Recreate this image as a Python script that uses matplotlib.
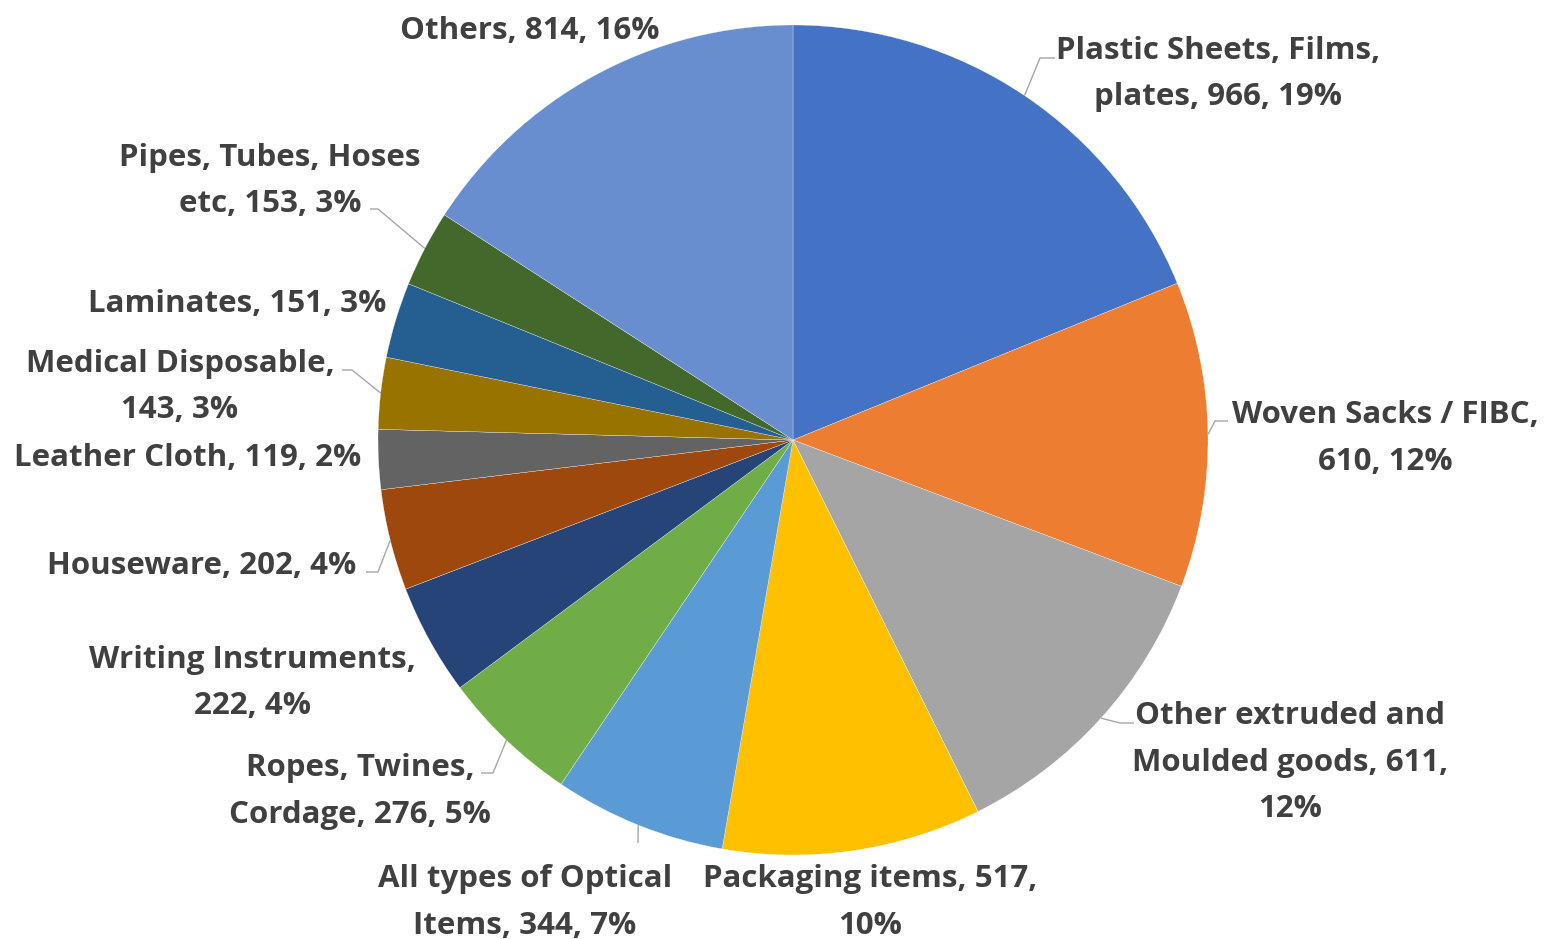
import textwrap
import numpy as np
import matplotlib
matplotlib.use("Agg")
import matplotlib.pyplot as plt

# Product categories, clockwise from 12 o'clock
categories = [
    "Plastic Sheets, Films, plates",
    "Woven Sacks / FIBC",
    "Other extruded and Moulded goods",
    "Packaging items",
    "All types of Optical Items",
    "Ropes, Twines, Cordage",
    "Writing Instruments",
    "Houseware",
    "Leather Cloth",
    "Medical Disposable",
    "Laminates",
    "Pipes, Tubes, Hoses etc",
    "Others",
]
values = [966, 610, 611, 517, 344, 276, 222, 202, 119, 143, 151, 153, 814]
colors = [
    "#4472C4", "#ED7D31", "#A5A5A5", "#FFC000", "#5B9BD5", "#70AD47",
    "#264478", "#9E480E", "#636363", "#997300", "#255E91", "#43682B",
    "#698ED0",
]

# Layout (pixel units, y downward)
W, H = 1545, 939
CX, CY, R = 793, 440, 415
TEXT_COLOR = "#404040"
LINE_GAP = 46.5
TEXT_DY = 3
FONT = dict(family=["Open Sans", "DejaVu Sans"], fontweight="bold", fontsize=22.5)

# centre of the first text line and wrap width for each label
label_pos = [
    (1218, 48), (1385, 412), (1290, 713), (870, 876), (525, 876),
    (360, 765), (252, 657), (202, 563), (188, 455), (180, 361),
    (237, 301), (270, 155), (530, 28),
]
wrap_width = [22, 19, 19, 21, 20, 16, 20, 30, 30, 19, 30, 19, 30]

# leader lines: elbow and end point for the labels that have one
leaders = {
    0: [(1040, 58), (1055, 58)],
    1: [(1215, 421), (1228, 421)],
    2: [(1120, 723), (1134, 723)],
    4: [(638, 843)],
    5: [(493, 773), (481, 773)],
    7: [(378, 572), (366, 572)],
    9: [(352, 370), (342, 370)],
    11: [(378, 209), (370, 209)],
}

fig = plt.figure(figsize=(W / 100, H / 100), dpi=100)
ax = fig.add_axes([0, 0, 1, 1])

# y axis is inverted below, so counter-clockwise in data is clockwise on screen
ax.pie(values, colors=colors, startangle=-90, counterclock=True,
       center=(CX, CY), radius=R,
       wedgeprops=dict(edgecolor="white", linewidth=0.2))
ax.set_xlim(0, W)
ax.set_ylim(H, 0)
ax.set_aspect("equal")
ax.axis("off")

total = sum(values)
cum = np.cumsum([0] + values)
for i, (name, v) in enumerate(zip(categories, values)):
    pct = round(v / total * 100)
    text = f"{name}, {v}, {pct}%"
    lines = textwrap.wrap(text, width=wrap_width[i])
    x0, y0 = label_pos[i]
    for k, line in enumerate(lines):
        ax.text(x0, y0 + TEXT_DY + k * LINE_GAP, line, ha="center",
                va="center", color=TEXT_COLOR, **FONT)
    if i in leaders:
        phi = 2 * np.pi * (cum[i] + v / 2) / total
        ex, ey = CX + R * np.sin(phi), CY - R * np.cos(phi)
        pts = [(ex, ey)] + leaders[i]
        xs, ys = zip(*pts)
        ax.plot(xs, ys, color="#A6A6A6", linewidth=1.0, solid_capstyle="butt")

fig.savefig("out.png", dpi=100, facecolor="white")
